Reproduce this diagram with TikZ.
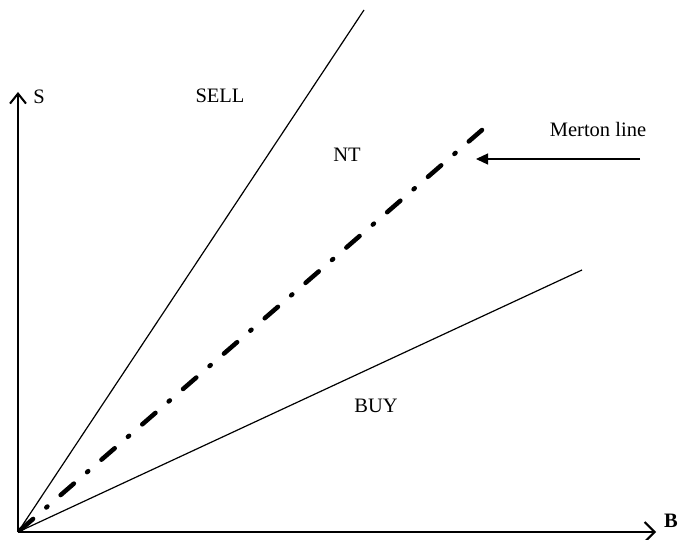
\documentclass[tikz,border=0pt]{standalone}
\usepackage{fontspec}
\setmainfont{Liberation Serif}
\usetikzlibrary{arrows.meta}
\begin{document}
\begin{tikzpicture}[x=1pt,y=-1pt,
  lbl/.style={inner sep=0pt,font=\fontsize{20.5}{24}\selectfont},
  axis/.style={line width=2pt},
  thin/.style={line width=1.2pt},
  merton/.style={line width=4.5pt,line cap=round,dash pattern=on 17.5pt off 17.5pt on 1.5pt off 17.5pt}]
\useasboundingbox (0,0) rectangle (681,540);
\coordinate (O) at (18,532);
\coordinate (Ytop) at (18,92);
\coordinate (Xend) at (656,532);
\coordinate (sellEnd) at (364,10);
\coordinate (mEnd) at (482,130);
\coordinate (buyEnd) at (582,270);
\coordinate (arrStart) at (640,159);
\coordinate (arrEnd) at (476,159);
\draw[axis,-{Straight Barb[length=10pt,width=16pt,line width=2pt]}] (O) -- (Ytop);
\draw[axis,-{Straight Barb[length=10pt,width=20pt,line width=2pt]}] (O) -- (Xend);
\draw[thin] (O) -- (sellEnd);
\draw[thin] (O) -- (buyEnd);
\draw[merton] (mEnd) -- (O);
\draw[thin,-{Triangle[length=12pt,width=11pt]}] (arrStart) -- (arrEnd);
\node[lbl] (S) at (39,97) {S};
\node[lbl] (B) at (671,521) {\bfseries B};
\node[lbl] (SELL) at (220,96) {SELL};
\node[lbl] (NT) at (347,155) {NT};
\node[lbl] (BUY) at (376,406) {BUY};
\node[lbl] (ML) at (598,129) {Merton line};
\end{tikzpicture}
\end{document}
